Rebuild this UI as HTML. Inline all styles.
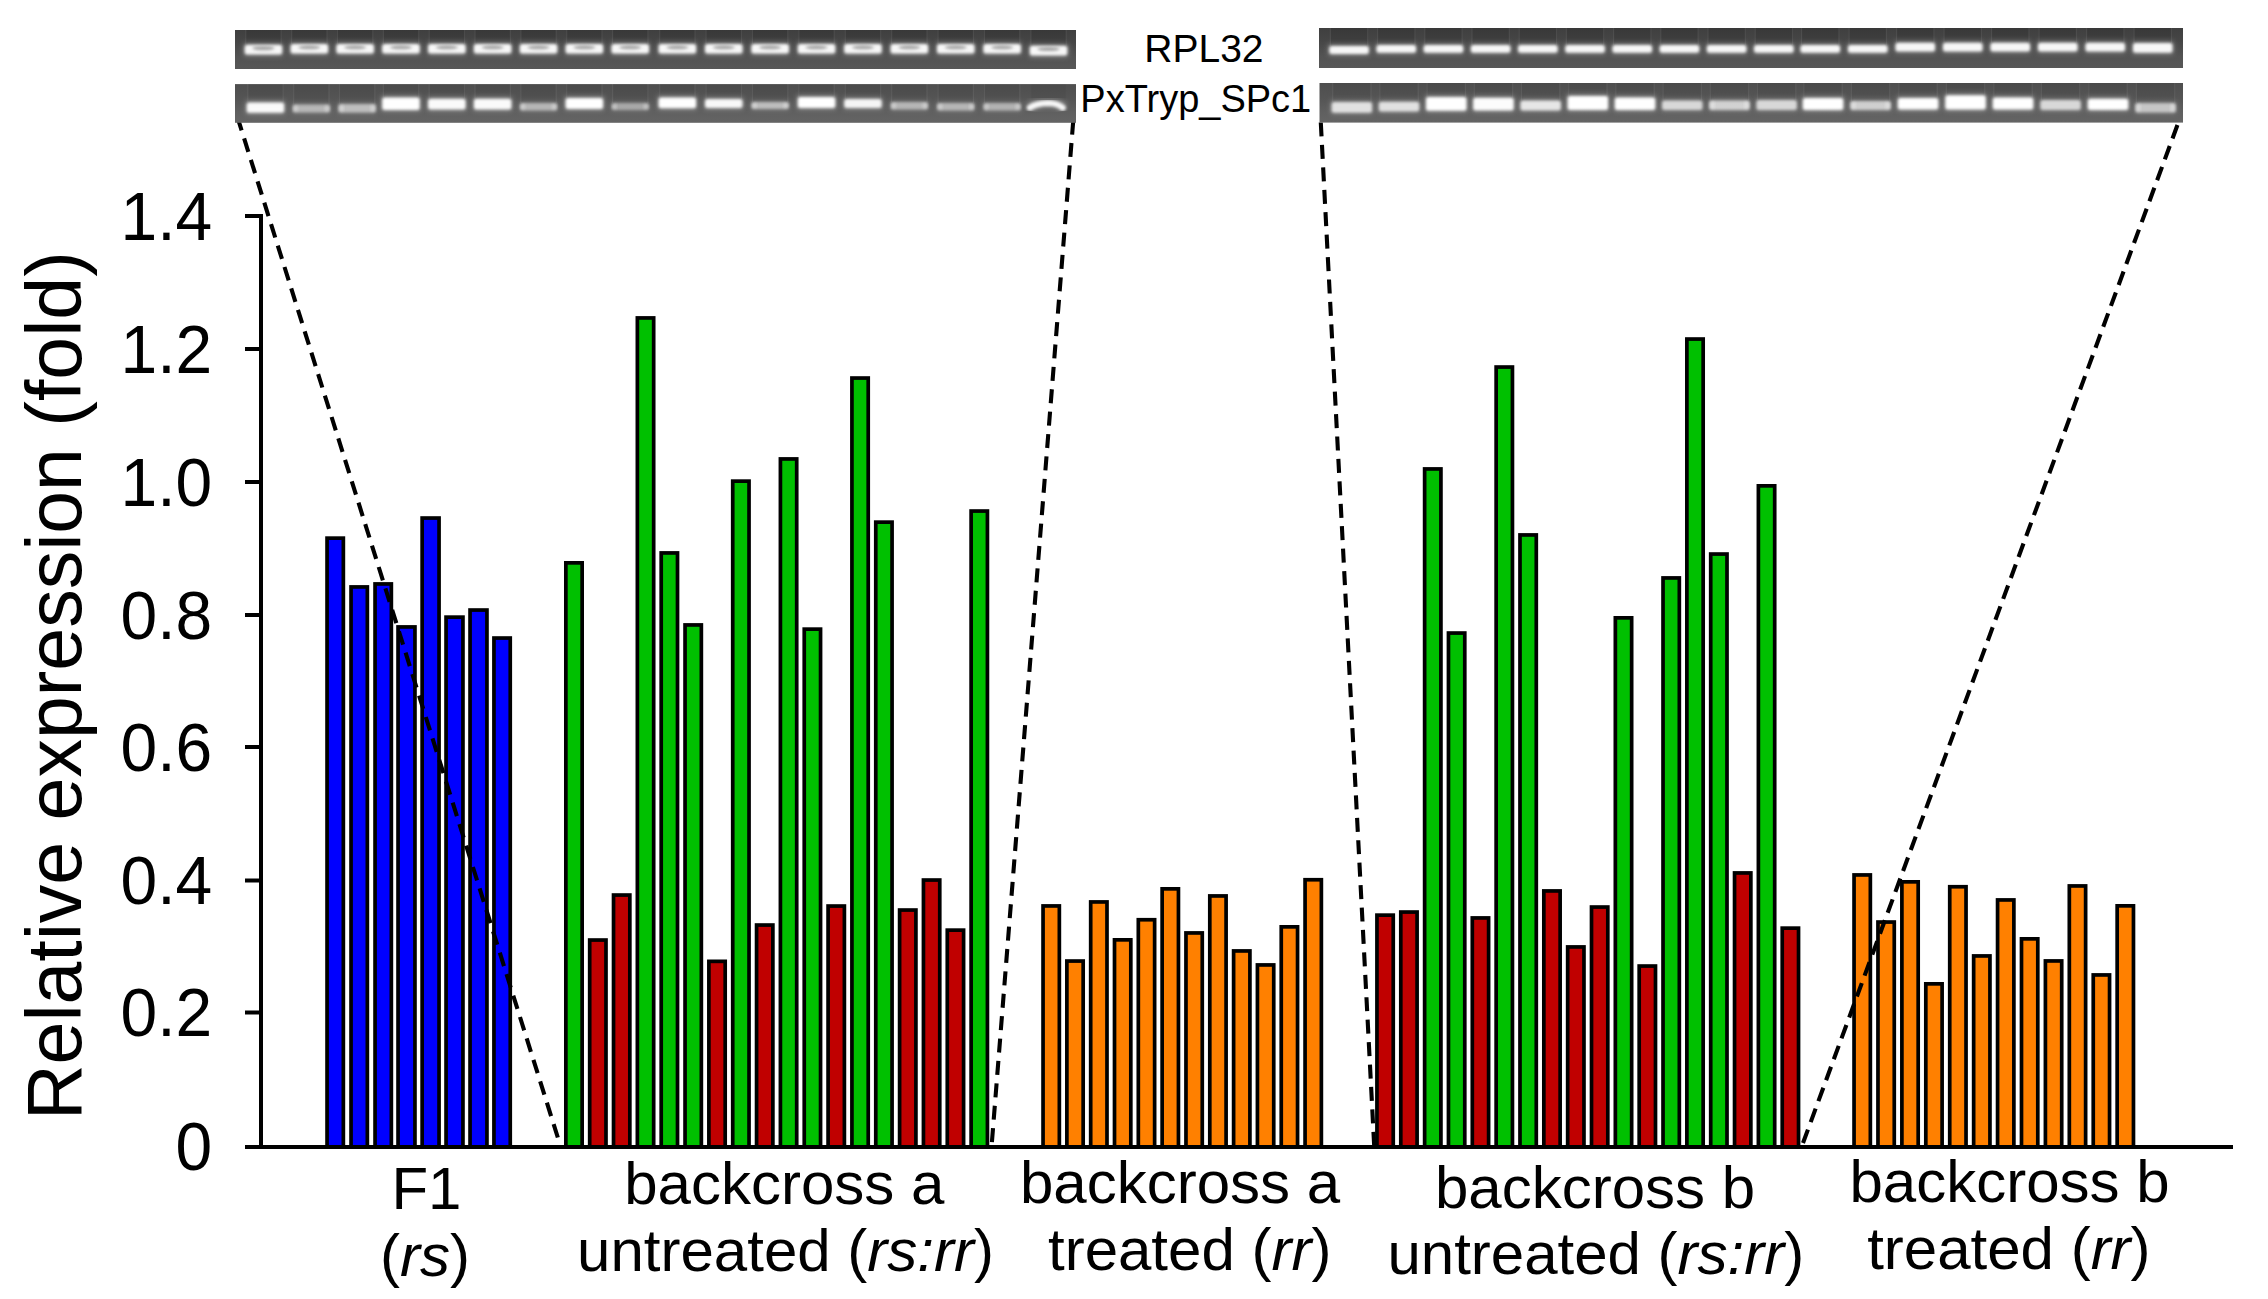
<!DOCTYPE html>
<html lang="en"><head><meta charset="utf-8"><title>Relative expression</title>
<style>html,body{margin:0;padding:0;background:#fff}svg{display:block}text{font-family:"Liberation Sans",Arial,Helvetica,sans-serif;fill:#000}.it{font-style:italic}</style>
</head><body>
<svg width="2268" height="1299" viewBox="0 0 2268 1299">
<defs>
<linearGradient id="g1" x1="0" y1="0" x2="0" y2="1"><stop offset="0" stop-color="#3f3f3f"/><stop offset="0.3" stop-color="#454545"/><stop offset="0.7" stop-color="#535353"/><stop offset="1" stop-color="#575757"/></linearGradient>
<linearGradient id="g2" x1="0" y1="0" x2="0" y2="1"><stop offset="0" stop-color="#4e4e4e"/><stop offset="0.4" stop-color="#555"/><stop offset="0.75" stop-color="#606060"/><stop offset="1" stop-color="#646464"/></linearGradient>
<filter id="bl" x="-20%" y="-60%" width="140%" height="220%"><feGaussianBlur stdDeviation="1.5"/></filter>
<filter id="bl2" x="-20%" y="-80%" width="140%" height="260%"><feGaussianBlur stdDeviation="2.6"/></filter>
</defs>
<rect x="0" y="0" width="2268" height="1299" fill="#fff"/>
<text x="1203.9" y="61.9" font-size="39" text-anchor="middle">RPL32</text>
<text x="1195.8" y="111.9" font-size="38" text-anchor="middle">PxTryp_SPc1</text>
<g id="bars">
<rect x="327.05" y="538.15" width="16.30" height="608.85" fill="#0000ff" stroke="#000" stroke-width="3.7"/>
<rect x="351.05" y="586.95" width="16.30" height="560.05" fill="#0000ff" stroke="#000" stroke-width="3.7"/>
<rect x="375.05" y="583.95" width="16.30" height="563.05" fill="#0000ff" stroke="#000" stroke-width="3.7"/>
<rect x="398.05" y="626.95" width="16.90" height="520.05" fill="#0000ff" stroke="#000" stroke-width="3.7"/>
<rect x="422.15" y="518.05" width="16.90" height="628.95" fill="#0000ff" stroke="#000" stroke-width="3.7"/>
<rect x="446.05" y="617.15" width="16.90" height="529.85" fill="#0000ff" stroke="#000" stroke-width="3.7"/>
<rect x="470.05" y="610.05" width="16.90" height="536.95" fill="#0000ff" stroke="#000" stroke-width="3.7"/>
<rect x="493.95" y="638.05" width="16.30" height="508.95" fill="#0000ff" stroke="#000" stroke-width="3.7"/>
<rect x="565.85" y="562.85" width="16.30" height="584.15" fill="#00c000" stroke="#000" stroke-width="3.7"/>
<rect x="589.69" y="940.05" width="16.30" height="206.95" fill="#c00000" stroke="#000" stroke-width="3.7"/>
<rect x="613.53" y="895.05" width="16.30" height="251.95" fill="#c00000" stroke="#000" stroke-width="3.7"/>
<rect x="637.37" y="317.95" width="16.30" height="829.05" fill="#00c000" stroke="#000" stroke-width="3.7"/>
<rect x="661.21" y="552.95" width="16.30" height="594.05" fill="#00c000" stroke="#000" stroke-width="3.7"/>
<rect x="685.05" y="624.95" width="16.30" height="522.05" fill="#00c000" stroke="#000" stroke-width="3.7"/>
<rect x="708.89" y="961.35" width="16.30" height="185.65" fill="#c00000" stroke="#000" stroke-width="3.7"/>
<rect x="732.73" y="481.15" width="16.30" height="665.85" fill="#00c000" stroke="#000" stroke-width="3.7"/>
<rect x="756.57" y="925.05" width="16.30" height="221.95" fill="#c00000" stroke="#000" stroke-width="3.7"/>
<rect x="780.41" y="458.95" width="16.30" height="688.05" fill="#00c000" stroke="#000" stroke-width="3.7"/>
<rect x="804.25" y="629.15" width="16.30" height="517.85" fill="#00c000" stroke="#000" stroke-width="3.7"/>
<rect x="828.09" y="906.05" width="16.30" height="240.95" fill="#c00000" stroke="#000" stroke-width="3.7"/>
<rect x="851.93" y="378.05" width="16.30" height="768.95" fill="#00c000" stroke="#000" stroke-width="3.7"/>
<rect x="875.77" y="522.15" width="16.30" height="624.85" fill="#00c000" stroke="#000" stroke-width="3.7"/>
<rect x="899.61" y="910.05" width="16.30" height="236.95" fill="#c00000" stroke="#000" stroke-width="3.7"/>
<rect x="923.45" y="880.05" width="16.30" height="266.95" fill="#c00000" stroke="#000" stroke-width="3.7"/>
<rect x="947.29" y="930.15" width="16.30" height="216.85" fill="#c00000" stroke="#000" stroke-width="3.7"/>
<rect x="971.13" y="511.05" width="16.30" height="635.95" fill="#00c000" stroke="#000" stroke-width="3.7"/>
<rect x="1043.05" y="905.95" width="16.30" height="241.05" fill="#ff8000" stroke="#000" stroke-width="3.7"/>
<rect x="1066.87" y="961.05" width="16.30" height="185.95" fill="#ff8000" stroke="#000" stroke-width="3.7"/>
<rect x="1090.69" y="901.95" width="16.30" height="245.05" fill="#ff8000" stroke="#000" stroke-width="3.7"/>
<rect x="1114.51" y="939.85" width="16.30" height="207.15" fill="#ff8000" stroke="#000" stroke-width="3.7"/>
<rect x="1138.33" y="919.75" width="16.30" height="227.25" fill="#ff8000" stroke="#000" stroke-width="3.7"/>
<rect x="1162.15" y="888.85" width="16.30" height="258.15" fill="#ff8000" stroke="#000" stroke-width="3.7"/>
<rect x="1185.97" y="932.95" width="16.30" height="214.05" fill="#ff8000" stroke="#000" stroke-width="3.7"/>
<rect x="1209.79" y="895.95" width="16.30" height="251.05" fill="#ff8000" stroke="#000" stroke-width="3.7"/>
<rect x="1233.61" y="950.95" width="16.30" height="196.05" fill="#ff8000" stroke="#000" stroke-width="3.7"/>
<rect x="1257.43" y="964.95" width="16.30" height="182.05" fill="#ff8000" stroke="#000" stroke-width="3.7"/>
<rect x="1281.25" y="926.85" width="16.30" height="220.15" fill="#ff8000" stroke="#000" stroke-width="3.7"/>
<rect x="1305.07" y="879.75" width="16.30" height="267.25" fill="#ff8000" stroke="#000" stroke-width="3.7"/>
<rect x="1376.95" y="915.15" width="16.30" height="231.85" fill="#c00000" stroke="#000" stroke-width="3.7"/>
<rect x="1400.79" y="912.05" width="16.30" height="234.95" fill="#c00000" stroke="#000" stroke-width="3.7"/>
<rect x="1424.63" y="468.95" width="16.30" height="678.05" fill="#00c000" stroke="#000" stroke-width="3.7"/>
<rect x="1448.47" y="633.05" width="16.30" height="513.95" fill="#00c000" stroke="#000" stroke-width="3.7"/>
<rect x="1472.31" y="917.95" width="16.30" height="229.05" fill="#c00000" stroke="#000" stroke-width="3.7"/>
<rect x="1496.15" y="367.05" width="16.30" height="779.95" fill="#00c000" stroke="#000" stroke-width="3.7"/>
<rect x="1519.99" y="534.95" width="16.30" height="612.05" fill="#00c000" stroke="#000" stroke-width="3.7"/>
<rect x="1543.83" y="890.95" width="16.30" height="256.05" fill="#c00000" stroke="#000" stroke-width="3.7"/>
<rect x="1567.67" y="946.95" width="16.30" height="200.05" fill="#c00000" stroke="#000" stroke-width="3.7"/>
<rect x="1591.51" y="907.05" width="16.30" height="239.95" fill="#c00000" stroke="#000" stroke-width="3.7"/>
<rect x="1615.35" y="617.85" width="16.30" height="529.15" fill="#00c000" stroke="#000" stroke-width="3.7"/>
<rect x="1639.19" y="966.05" width="16.30" height="180.95" fill="#c00000" stroke="#000" stroke-width="3.7"/>
<rect x="1663.03" y="577.95" width="16.30" height="569.05" fill="#00c000" stroke="#000" stroke-width="3.7"/>
<rect x="1686.87" y="339.05" width="16.30" height="807.95" fill="#00c000" stroke="#000" stroke-width="3.7"/>
<rect x="1710.71" y="554.05" width="16.30" height="592.95" fill="#00c000" stroke="#000" stroke-width="3.7"/>
<rect x="1734.55" y="872.95" width="16.30" height="274.05" fill="#c00000" stroke="#000" stroke-width="3.7"/>
<rect x="1758.39" y="485.85" width="16.30" height="661.15" fill="#00c000" stroke="#000" stroke-width="3.7"/>
<rect x="1782.23" y="928.15" width="16.30" height="218.85" fill="#c00000" stroke="#000" stroke-width="3.7"/>
<rect x="1854.05" y="874.95" width="16.30" height="272.05" fill="#ff8000" stroke="#000" stroke-width="3.7"/>
<rect x="1877.97" y="922.05" width="16.30" height="224.95" fill="#ff8000" stroke="#000" stroke-width="3.7"/>
<rect x="1901.89" y="881.85" width="16.30" height="265.15" fill="#ff8000" stroke="#000" stroke-width="3.7"/>
<rect x="1925.81" y="983.85" width="16.30" height="163.15" fill="#ff8000" stroke="#000" stroke-width="3.7"/>
<rect x="1949.73" y="886.75" width="16.30" height="260.25" fill="#ff8000" stroke="#000" stroke-width="3.7"/>
<rect x="1973.65" y="955.95" width="16.30" height="191.05" fill="#ff8000" stroke="#000" stroke-width="3.7"/>
<rect x="1997.57" y="899.95" width="16.30" height="247.05" fill="#ff8000" stroke="#000" stroke-width="3.7"/>
<rect x="2021.49" y="938.85" width="16.30" height="208.15" fill="#ff8000" stroke="#000" stroke-width="3.7"/>
<rect x="2045.41" y="960.95" width="16.30" height="186.05" fill="#ff8000" stroke="#000" stroke-width="3.7"/>
<rect x="2069.33" y="885.95" width="16.30" height="261.05" fill="#ff8000" stroke="#000" stroke-width="3.7"/>
<rect x="2093.25" y="974.95" width="16.30" height="172.05" fill="#ff8000" stroke="#000" stroke-width="3.7"/>
<rect x="2117.17" y="905.85" width="16.30" height="241.15" fill="#ff8000" stroke="#000" stroke-width="3.7"/>
</g>
<g id="axes" stroke="#000" stroke-width="4" fill="none">
<line x1="261" y1="214" x2="261" y2="1149"/>
<line x1="245" y1="1147" x2="2233" y2="1147"/>
<line x1="245" y1="216" x2="261" y2="216"/>
<line x1="245" y1="349" x2="261" y2="349"/>
<line x1="245" y1="482" x2="261" y2="482"/>
<line x1="245" y1="615" x2="261" y2="615"/>
<line x1="245" y1="747" x2="261" y2="747"/>
<line x1="245" y1="880.5" x2="261" y2="880.5"/>
<line x1="245" y1="1012.5" x2="261" y2="1012.5"/>
</g>
<text transform="translate(212.3,239.6) scale(0.985,1.035)" font-size="67" text-anchor="end">1.4</text>
<text transform="translate(212.3,372.6) scale(0.985,1.035)" font-size="67" text-anchor="end">1.2</text>
<text transform="translate(212.3,505.6) scale(0.985,1.035)" font-size="67" text-anchor="end">1.0</text>
<text transform="translate(212.3,638.6) scale(0.985,1.035)" font-size="67" text-anchor="end">0.8</text>
<text transform="translate(212.3,770.6) scale(0.985,1.035)" font-size="67" text-anchor="end">0.6</text>
<text transform="translate(212.3,904.1) scale(0.985,1.035)" font-size="67" text-anchor="end">0.4</text>
<text transform="translate(212.3,1036.1) scale(0.985,1.035)" font-size="67" text-anchor="end">0.2</text>
<text transform="translate(212.3,1169.6) scale(0.985,1.035)" font-size="67" text-anchor="end">0</text>
<text transform="translate(81,1120) rotate(-90)" font-size="77">Relative expression (fold)</text>
<g id="dash" stroke="#000" stroke-width="4.1" stroke-dasharray="14 8.46" fill="none">
<line x1="237.4" y1="117" x2="558.6" y2="1140"/>
<line x1="1073.25" y1="120.6" x2="991.6" y2="1146"/>
<line x1="1320.8" y1="122.5" x2="1374.2" y2="1146"/>
<line x1="2177.45" y1="125" x2="1801.9" y2="1146" stroke-dasharray="14.3 8"/>
</g>
<g id="gel1">
<rect x="235" y="30" width="841" height="39" fill="url(#g1)"/>
<rect x="235" y="84.1" width="841" height="38.7" fill="url(#g2)"/>
<rect x="246.2" y="30.0" width="34.5" height="14.7" fill="#000" opacity="0.1"/>
<rect x="245.2" y="30.0" width="1.2" height="14.7" fill="#fff" opacity="0.06"/>
<rect x="280.5" y="30.0" width="1.2" height="14.7" fill="#fff" opacity="0.06"/>
<rect x="243.2" y="42.2" width="40.5" height="14.4" rx="3" fill="#b0b0b0" opacity="0.40" filter="url(#bl2)"/>
<rect x="244.7" y="44.7" width="37.5" height="9.9" rx="2.5" fill="#fff" opacity="0.95" filter="url(#bl)"/>
<ellipse cx="263.4" cy="48.1" rx="11.2" ry="2.2" fill="#8a8a8a" opacity="0.75" filter="url(#bl)"/>
<rect x="292.1" y="30.0" width="34.5" height="14.1" fill="#000" opacity="0.1"/>
<rect x="291.1" y="30.0" width="1.2" height="14.1" fill="#fff" opacity="0.06"/>
<rect x="326.4" y="30.0" width="1.2" height="14.1" fill="#fff" opacity="0.06"/>
<rect x="289.1" y="41.6" width="40.5" height="13.8" rx="3" fill="#b0b0b0" opacity="0.40" filter="url(#bl2)"/>
<rect x="290.6" y="44.1" width="37.5" height="9.3" rx="2.5" fill="#fff" opacity="0.95" filter="url(#bl)"/>
<ellipse cx="309.3" cy="47.3" rx="11.2" ry="2.0" fill="#8a8a8a" opacity="0.75" filter="url(#bl)"/>
<rect x="337.9" y="30.0" width="34.5" height="14.1" fill="#000" opacity="0.1"/>
<rect x="336.9" y="30.0" width="1.2" height="14.1" fill="#fff" opacity="0.06"/>
<rect x="372.2" y="30.0" width="1.2" height="14.1" fill="#fff" opacity="0.06"/>
<rect x="334.9" y="41.6" width="40.5" height="13.8" rx="3" fill="#b0b0b0" opacity="0.40" filter="url(#bl2)"/>
<rect x="336.4" y="44.1" width="37.5" height="9.3" rx="2.5" fill="#fff" opacity="0.95" filter="url(#bl)"/>
<ellipse cx="355.1" cy="47.3" rx="11.2" ry="2.0" fill="#8a8a8a" opacity="0.75" filter="url(#bl)"/>
<rect x="383.8" y="30.0" width="34.5" height="14.1" fill="#000" opacity="0.1"/>
<rect x="382.8" y="30.0" width="1.2" height="14.1" fill="#fff" opacity="0.06"/>
<rect x="418.1" y="30.0" width="1.2" height="14.1" fill="#fff" opacity="0.06"/>
<rect x="380.8" y="41.6" width="40.5" height="13.8" rx="3" fill="#b0b0b0" opacity="0.40" filter="url(#bl2)"/>
<rect x="382.2" y="44.1" width="37.5" height="9.3" rx="2.5" fill="#fff" opacity="0.95" filter="url(#bl)"/>
<ellipse cx="401.0" cy="47.3" rx="11.2" ry="2.0" fill="#8a8a8a" opacity="0.75" filter="url(#bl)"/>
<rect x="429.6" y="30.0" width="34.5" height="14.1" fill="#000" opacity="0.1"/>
<rect x="428.6" y="30.0" width="1.2" height="14.1" fill="#fff" opacity="0.06"/>
<rect x="463.9" y="30.0" width="1.2" height="14.1" fill="#fff" opacity="0.06"/>
<rect x="426.6" y="41.6" width="40.5" height="13.8" rx="3" fill="#b0b0b0" opacity="0.40" filter="url(#bl2)"/>
<rect x="428.1" y="44.1" width="37.5" height="9.3" rx="2.5" fill="#fff" opacity="0.95" filter="url(#bl)"/>
<ellipse cx="446.9" cy="47.3" rx="11.2" ry="2.0" fill="#8a8a8a" opacity="0.75" filter="url(#bl)"/>
<rect x="475.4" y="30.0" width="34.5" height="14.1" fill="#000" opacity="0.1"/>
<rect x="474.4" y="30.0" width="1.2" height="14.1" fill="#fff" opacity="0.06"/>
<rect x="509.8" y="30.0" width="1.2" height="14.1" fill="#fff" opacity="0.06"/>
<rect x="472.4" y="41.6" width="40.5" height="13.8" rx="3" fill="#b0b0b0" opacity="0.40" filter="url(#bl2)"/>
<rect x="473.9" y="44.1" width="37.5" height="9.3" rx="2.5" fill="#fff" opacity="0.95" filter="url(#bl)"/>
<ellipse cx="492.7" cy="47.3" rx="11.2" ry="2.0" fill="#8a8a8a" opacity="0.75" filter="url(#bl)"/>
<rect x="521.3" y="30.0" width="34.5" height="14.1" fill="#000" opacity="0.1"/>
<rect x="520.3" y="30.0" width="1.2" height="14.1" fill="#fff" opacity="0.06"/>
<rect x="555.6" y="30.0" width="1.2" height="14.1" fill="#fff" opacity="0.06"/>
<rect x="518.3" y="41.6" width="40.5" height="13.8" rx="3" fill="#b0b0b0" opacity="0.40" filter="url(#bl2)"/>
<rect x="519.8" y="44.1" width="37.5" height="9.3" rx="2.5" fill="#fff" opacity="0.95" filter="url(#bl)"/>
<ellipse cx="538.5" cy="47.3" rx="11.2" ry="2.0" fill="#8a8a8a" opacity="0.75" filter="url(#bl)"/>
<rect x="567.1" y="30.0" width="34.5" height="14.1" fill="#000" opacity="0.1"/>
<rect x="566.1" y="30.0" width="1.2" height="14.1" fill="#fff" opacity="0.06"/>
<rect x="601.4" y="30.0" width="1.2" height="14.1" fill="#fff" opacity="0.06"/>
<rect x="564.1" y="41.6" width="40.5" height="13.8" rx="3" fill="#b0b0b0" opacity="0.40" filter="url(#bl2)"/>
<rect x="565.6" y="44.1" width="37.5" height="9.3" rx="2.5" fill="#fff" opacity="0.95" filter="url(#bl)"/>
<ellipse cx="584.4" cy="47.3" rx="11.2" ry="2.0" fill="#8a8a8a" opacity="0.75" filter="url(#bl)"/>
<rect x="613.0" y="30.0" width="34.5" height="14.1" fill="#000" opacity="0.1"/>
<rect x="612.0" y="30.0" width="1.2" height="14.1" fill="#fff" opacity="0.06"/>
<rect x="647.3" y="30.0" width="1.2" height="14.1" fill="#fff" opacity="0.06"/>
<rect x="610.0" y="41.6" width="40.5" height="13.8" rx="3" fill="#b0b0b0" opacity="0.40" filter="url(#bl2)"/>
<rect x="611.5" y="44.1" width="37.5" height="9.3" rx="2.5" fill="#fff" opacity="0.95" filter="url(#bl)"/>
<ellipse cx="630.2" cy="47.3" rx="11.2" ry="2.0" fill="#8a8a8a" opacity="0.75" filter="url(#bl)"/>
<rect x="660.1" y="30.0" width="34.5" height="14.1" fill="#000" opacity="0.1"/>
<rect x="659.1" y="30.0" width="1.2" height="14.1" fill="#fff" opacity="0.06"/>
<rect x="694.4" y="30.0" width="1.2" height="14.1" fill="#fff" opacity="0.06"/>
<rect x="657.1" y="41.6" width="40.5" height="13.8" rx="3" fill="#b0b0b0" opacity="0.40" filter="url(#bl2)"/>
<rect x="658.6" y="44.1" width="37.5" height="9.3" rx="2.5" fill="#fff" opacity="0.95" filter="url(#bl)"/>
<ellipse cx="677.4" cy="47.3" rx="11.2" ry="2.0" fill="#8a8a8a" opacity="0.75" filter="url(#bl)"/>
<rect x="706.5" y="30.0" width="34.5" height="14.1" fill="#000" opacity="0.1"/>
<rect x="705.5" y="30.0" width="1.2" height="14.1" fill="#fff" opacity="0.06"/>
<rect x="740.8" y="30.0" width="1.2" height="14.1" fill="#fff" opacity="0.06"/>
<rect x="703.5" y="41.6" width="40.5" height="13.8" rx="3" fill="#b0b0b0" opacity="0.40" filter="url(#bl2)"/>
<rect x="705.0" y="44.1" width="37.5" height="9.3" rx="2.5" fill="#fff" opacity="0.95" filter="url(#bl)"/>
<ellipse cx="723.8" cy="47.3" rx="11.2" ry="2.0" fill="#8a8a8a" opacity="0.75" filter="url(#bl)"/>
<rect x="752.9" y="30.0" width="34.5" height="14.1" fill="#000" opacity="0.1"/>
<rect x="751.9" y="30.0" width="1.2" height="14.1" fill="#fff" opacity="0.06"/>
<rect x="787.2" y="30.0" width="1.2" height="14.1" fill="#fff" opacity="0.06"/>
<rect x="749.9" y="41.6" width="40.5" height="13.8" rx="3" fill="#b0b0b0" opacity="0.40" filter="url(#bl2)"/>
<rect x="751.4" y="44.1" width="37.5" height="9.3" rx="2.5" fill="#fff" opacity="0.95" filter="url(#bl)"/>
<ellipse cx="770.1" cy="47.3" rx="11.2" ry="2.0" fill="#8a8a8a" opacity="0.75" filter="url(#bl)"/>
<rect x="799.3" y="30.0" width="34.5" height="14.1" fill="#000" opacity="0.1"/>
<rect x="798.3" y="30.0" width="1.2" height="14.1" fill="#fff" opacity="0.06"/>
<rect x="833.6" y="30.0" width="1.2" height="14.1" fill="#fff" opacity="0.06"/>
<rect x="796.3" y="41.6" width="40.5" height="13.8" rx="3" fill="#b0b0b0" opacity="0.40" filter="url(#bl2)"/>
<rect x="797.8" y="44.1" width="37.5" height="9.3" rx="2.5" fill="#fff" opacity="0.95" filter="url(#bl)"/>
<ellipse cx="816.5" cy="47.3" rx="11.2" ry="2.0" fill="#8a8a8a" opacity="0.75" filter="url(#bl)"/>
<rect x="845.7" y="30.0" width="34.5" height="14.1" fill="#000" opacity="0.1"/>
<rect x="844.7" y="30.0" width="1.2" height="14.1" fill="#fff" opacity="0.06"/>
<rect x="880.0" y="30.0" width="1.2" height="14.1" fill="#fff" opacity="0.06"/>
<rect x="842.7" y="41.6" width="40.5" height="13.8" rx="3" fill="#b0b0b0" opacity="0.40" filter="url(#bl2)"/>
<rect x="844.2" y="44.1" width="37.5" height="9.3" rx="2.5" fill="#fff" opacity="0.95" filter="url(#bl)"/>
<ellipse cx="863.0" cy="47.3" rx="11.2" ry="2.0" fill="#8a8a8a" opacity="0.75" filter="url(#bl)"/>
<rect x="892.1" y="30.0" width="34.5" height="14.1" fill="#000" opacity="0.1"/>
<rect x="891.1" y="30.0" width="1.2" height="14.1" fill="#fff" opacity="0.06"/>
<rect x="926.4" y="30.0" width="1.2" height="14.1" fill="#fff" opacity="0.06"/>
<rect x="889.1" y="41.6" width="40.5" height="13.8" rx="3" fill="#b0b0b0" opacity="0.40" filter="url(#bl2)"/>
<rect x="890.6" y="44.1" width="37.5" height="9.3" rx="2.5" fill="#fff" opacity="0.95" filter="url(#bl)"/>
<ellipse cx="909.4" cy="47.3" rx="11.2" ry="2.0" fill="#8a8a8a" opacity="0.75" filter="url(#bl)"/>
<rect x="938.5" y="30.0" width="34.5" height="14.1" fill="#000" opacity="0.1"/>
<rect x="937.5" y="30.0" width="1.2" height="14.1" fill="#fff" opacity="0.06"/>
<rect x="972.8" y="30.0" width="1.2" height="14.1" fill="#fff" opacity="0.06"/>
<rect x="935.5" y="41.6" width="40.5" height="13.8" rx="3" fill="#b0b0b0" opacity="0.40" filter="url(#bl2)"/>
<rect x="937.0" y="44.1" width="37.5" height="9.3" rx="2.5" fill="#fff" opacity="0.95" filter="url(#bl)"/>
<ellipse cx="955.8" cy="47.3" rx="11.2" ry="2.0" fill="#8a8a8a" opacity="0.75" filter="url(#bl)"/>
<rect x="984.9" y="30.0" width="34.5" height="14.1" fill="#000" opacity="0.1"/>
<rect x="983.9" y="30.0" width="1.2" height="14.1" fill="#fff" opacity="0.06"/>
<rect x="1019.2" y="30.0" width="1.2" height="14.1" fill="#fff" opacity="0.06"/>
<rect x="981.9" y="41.6" width="40.5" height="13.8" rx="3" fill="#b0b0b0" opacity="0.40" filter="url(#bl2)"/>
<rect x="983.4" y="44.1" width="37.5" height="9.3" rx="2.5" fill="#fff" opacity="0.95" filter="url(#bl)"/>
<ellipse cx="1002.2" cy="47.3" rx="11.2" ry="2.0" fill="#8a8a8a" opacity="0.75" filter="url(#bl)"/>
<rect x="1031.3" y="30.0" width="34.5" height="15.7" fill="#000" opacity="0.1"/>
<rect x="1030.3" y="30.0" width="1.2" height="15.7" fill="#fff" opacity="0.06"/>
<rect x="1065.6" y="30.0" width="1.2" height="15.7" fill="#fff" opacity="0.06"/>
<rect x="1028.3" y="43.2" width="40.5" height="14.2" rx="3" fill="#b0b0b0" opacity="0.40" filter="url(#bl2)"/>
<rect x="1029.8" y="45.7" width="37.5" height="9.7" rx="2.5" fill="#fff" opacity="0.95" filter="url(#bl)"/>
<ellipse cx="1048.5" cy="49.0" rx="11.2" ry="2.1" fill="#8a8a8a" opacity="0.75" filter="url(#bl)"/>
<rect x="248.2" y="84.0" width="34.5" height="18.5" fill="#000" opacity="0.04"/>
<rect x="247.2" y="84.0" width="1.2" height="18.5" fill="#fff" opacity="0.06"/>
<rect x="282.5" y="84.0" width="1.2" height="18.5" fill="#fff" opacity="0.06"/>
<rect x="245.2" y="100.0" width="40.5" height="14.8" rx="3" fill="#b0b0b0" opacity="0.41" filter="url(#bl2)"/>
<rect x="246.7" y="102.5" width="37.5" height="10.3" rx="2.5" fill="#fff" opacity="0.97" filter="url(#bl)"/>
<rect x="294.1" y="84.0" width="34.5" height="20.5" fill="#000" opacity="0.04"/>
<rect x="293.1" y="84.0" width="1.2" height="20.5" fill="#fff" opacity="0.06"/>
<rect x="328.4" y="84.0" width="1.2" height="20.5" fill="#fff" opacity="0.06"/>
<rect x="291.1" y="102.0" width="40.5" height="12.6" rx="3" fill="#b0b0b0" opacity="0.21" filter="url(#bl2)"/>
<rect x="292.6" y="104.5" width="37.5" height="8.1" rx="2.5" fill="#fff" opacity="0.50" filter="url(#bl)"/>
<rect x="293.1" y="105.3" width="5" height="6.5" rx="2" fill="#fff" opacity="0.3" filter="url(#bl)"/>
<rect x="324.6" y="105.3" width="5" height="6.5" rx="2" fill="#fff" opacity="0.3" filter="url(#bl)"/>
<rect x="339.9" y="84.0" width="34.5" height="20.0" fill="#000" opacity="0.04"/>
<rect x="338.9" y="84.0" width="1.2" height="20.0" fill="#fff" opacity="0.06"/>
<rect x="374.2" y="84.0" width="1.2" height="20.0" fill="#fff" opacity="0.06"/>
<rect x="336.9" y="101.5" width="40.5" height="13.1" rx="3" fill="#b0b0b0" opacity="0.23" filter="url(#bl2)"/>
<rect x="338.4" y="104.0" width="37.5" height="8.6" rx="2.5" fill="#fff" opacity="0.55" filter="url(#bl)"/>
<rect x="338.9" y="104.8" width="5" height="7.0" rx="2" fill="#fff" opacity="0.3" filter="url(#bl)"/>
<rect x="370.4" y="104.8" width="5" height="7.0" rx="2" fill="#fff" opacity="0.3" filter="url(#bl)"/>
<rect x="383.8" y="84.0" width="34.5" height="13.5" fill="#000" opacity="0.04"/>
<rect x="382.8" y="84.0" width="1.2" height="13.5" fill="#fff" opacity="0.06"/>
<rect x="418.1" y="84.0" width="1.2" height="13.5" fill="#fff" opacity="0.06"/>
<rect x="380.8" y="95.0" width="40.5" height="16.9" rx="3" fill="#b0b0b0" opacity="0.42" filter="url(#bl2)"/>
<rect x="382.2" y="97.5" width="37.5" height="12.4" rx="2.5" fill="#fff" opacity="1.00" filter="url(#bl)"/>
<rect x="429.6" y="84.0" width="34.5" height="14.8" fill="#000" opacity="0.04"/>
<rect x="428.6" y="84.0" width="1.2" height="14.8" fill="#fff" opacity="0.06"/>
<rect x="463.9" y="84.0" width="1.2" height="14.8" fill="#fff" opacity="0.06"/>
<rect x="426.6" y="96.3" width="40.5" height="15.3" rx="3" fill="#b0b0b0" opacity="0.41" filter="url(#bl2)"/>
<rect x="428.1" y="98.8" width="37.5" height="10.8" rx="2.5" fill="#fff" opacity="0.97" filter="url(#bl)"/>
<rect x="475.4" y="84.0" width="34.5" height="14.8" fill="#000" opacity="0.04"/>
<rect x="474.4" y="84.0" width="1.2" height="14.8" fill="#fff" opacity="0.06"/>
<rect x="509.8" y="84.0" width="1.2" height="14.8" fill="#fff" opacity="0.06"/>
<rect x="472.4" y="96.3" width="40.5" height="15.3" rx="3" fill="#b0b0b0" opacity="0.41" filter="url(#bl2)"/>
<rect x="473.9" y="98.8" width="37.5" height="10.8" rx="2.5" fill="#fff" opacity="0.97" filter="url(#bl)"/>
<rect x="521.3" y="84.0" width="34.5" height="19.0" fill="#000" opacity="0.04"/>
<rect x="520.3" y="84.0" width="1.2" height="19.0" fill="#fff" opacity="0.06"/>
<rect x="555.6" y="84.0" width="1.2" height="19.0" fill="#fff" opacity="0.06"/>
<rect x="518.3" y="100.5" width="40.5" height="12.1" rx="3" fill="#b0b0b0" opacity="0.21" filter="url(#bl2)"/>
<rect x="519.8" y="103.0" width="37.5" height="7.6" rx="2.5" fill="#fff" opacity="0.50" filter="url(#bl)"/>
<rect x="520.3" y="103.8" width="5" height="6.0" rx="2" fill="#fff" opacity="0.3" filter="url(#bl)"/>
<rect x="551.8" y="103.8" width="5" height="6.0" rx="2" fill="#fff" opacity="0.3" filter="url(#bl)"/>
<rect x="567.1" y="84.0" width="34.5" height="14.0" fill="#000" opacity="0.04"/>
<rect x="566.1" y="84.0" width="1.2" height="14.0" fill="#fff" opacity="0.06"/>
<rect x="601.4" y="84.0" width="1.2" height="14.0" fill="#fff" opacity="0.06"/>
<rect x="564.1" y="95.5" width="40.5" height="15.6" rx="3" fill="#b0b0b0" opacity="0.42" filter="url(#bl2)"/>
<rect x="565.6" y="98.0" width="37.5" height="11.1" rx="2.5" fill="#fff" opacity="1.00" filter="url(#bl)"/>
<rect x="613.0" y="84.0" width="34.5" height="19.0" fill="#000" opacity="0.04"/>
<rect x="612.0" y="84.0" width="1.2" height="19.0" fill="#fff" opacity="0.06"/>
<rect x="647.3" y="84.0" width="1.2" height="19.0" fill="#fff" opacity="0.06"/>
<rect x="610.0" y="100.5" width="40.5" height="11.6" rx="3" fill="#b0b0b0" opacity="0.18" filter="url(#bl2)"/>
<rect x="611.5" y="103.0" width="37.5" height="7.1" rx="2.5" fill="#fff" opacity="0.42" filter="url(#bl)"/>
<rect x="612.0" y="103.8" width="5" height="5.5" rx="2" fill="#fff" opacity="0.3" filter="url(#bl)"/>
<rect x="643.5" y="103.8" width="5" height="5.5" rx="2" fill="#fff" opacity="0.3" filter="url(#bl)"/>
<rect x="660.1" y="84.0" width="34.5" height="13.5" fill="#000" opacity="0.04"/>
<rect x="659.1" y="84.0" width="1.2" height="13.5" fill="#fff" opacity="0.06"/>
<rect x="694.4" y="84.0" width="1.2" height="13.5" fill="#fff" opacity="0.06"/>
<rect x="657.1" y="95.0" width="40.5" height="15.2" rx="3" fill="#b0b0b0" opacity="0.42" filter="url(#bl2)"/>
<rect x="658.6" y="97.5" width="37.5" height="10.7" rx="2.5" fill="#fff" opacity="1.00" filter="url(#bl)"/>
<rect x="706.5" y="84.0" width="34.5" height="15.0" fill="#000" opacity="0.04"/>
<rect x="705.5" y="84.0" width="1.2" height="15.0" fill="#fff" opacity="0.06"/>
<rect x="740.8" y="84.0" width="1.2" height="15.0" fill="#fff" opacity="0.06"/>
<rect x="703.5" y="96.5" width="40.5" height="13.6" rx="3" fill="#b0b0b0" opacity="0.40" filter="url(#bl2)"/>
<rect x="705.0" y="99.0" width="37.5" height="9.1" rx="2.5" fill="#fff" opacity="0.95" filter="url(#bl)"/>
<rect x="752.9" y="84.0" width="34.5" height="18.0" fill="#000" opacity="0.04"/>
<rect x="751.9" y="84.0" width="1.2" height="18.0" fill="#fff" opacity="0.06"/>
<rect x="787.2" y="84.0" width="1.2" height="18.0" fill="#fff" opacity="0.06"/>
<rect x="749.9" y="99.5" width="40.5" height="11.6" rx="3" fill="#b0b0b0" opacity="0.23" filter="url(#bl2)"/>
<rect x="751.4" y="102.0" width="37.5" height="7.1" rx="2.5" fill="#fff" opacity="0.55" filter="url(#bl)"/>
<rect x="751.9" y="102.8" width="5" height="5.5" rx="2" fill="#fff" opacity="0.3" filter="url(#bl)"/>
<rect x="783.4" y="102.8" width="5" height="5.5" rx="2" fill="#fff" opacity="0.3" filter="url(#bl)"/>
<rect x="799.3" y="84.0" width="34.5" height="13.0" fill="#000" opacity="0.04"/>
<rect x="798.3" y="84.0" width="1.2" height="13.0" fill="#fff" opacity="0.06"/>
<rect x="833.6" y="84.0" width="1.2" height="13.0" fill="#fff" opacity="0.06"/>
<rect x="796.3" y="94.5" width="40.5" height="15.4" rx="3" fill="#b0b0b0" opacity="0.42" filter="url(#bl2)"/>
<rect x="797.8" y="97.0" width="37.5" height="10.9" rx="2.5" fill="#fff" opacity="1.00" filter="url(#bl)"/>
<rect x="845.7" y="84.0" width="34.5" height="15.0" fill="#000" opacity="0.04"/>
<rect x="844.7" y="84.0" width="1.2" height="15.0" fill="#fff" opacity="0.06"/>
<rect x="880.0" y="84.0" width="1.2" height="15.0" fill="#fff" opacity="0.06"/>
<rect x="842.7" y="96.5" width="40.5" height="13.6" rx="3" fill="#b0b0b0" opacity="0.39" filter="url(#bl2)"/>
<rect x="844.2" y="99.0" width="37.5" height="9.1" rx="2.5" fill="#fff" opacity="0.93" filter="url(#bl)"/>
<rect x="892.1" y="84.0" width="34.5" height="18.0" fill="#000" opacity="0.04"/>
<rect x="891.1" y="84.0" width="1.2" height="18.0" fill="#fff" opacity="0.06"/>
<rect x="926.4" y="84.0" width="1.2" height="18.0" fill="#fff" opacity="0.06"/>
<rect x="889.1" y="99.5" width="40.5" height="12.1" rx="3" fill="#b0b0b0" opacity="0.21" filter="url(#bl2)"/>
<rect x="890.6" y="102.0" width="37.5" height="7.6" rx="2.5" fill="#fff" opacity="0.50" filter="url(#bl)"/>
<rect x="891.1" y="102.8" width="5" height="6.0" rx="2" fill="#fff" opacity="0.3" filter="url(#bl)"/>
<rect x="922.6" y="102.8" width="5" height="6.0" rx="2" fill="#fff" opacity="0.3" filter="url(#bl)"/>
<rect x="938.5" y="84.0" width="34.5" height="19.0" fill="#000" opacity="0.04"/>
<rect x="937.5" y="84.0" width="1.2" height="19.0" fill="#fff" opacity="0.06"/>
<rect x="972.8" y="84.0" width="1.2" height="19.0" fill="#fff" opacity="0.06"/>
<rect x="935.5" y="100.5" width="40.5" height="12.1" rx="3" fill="#b0b0b0" opacity="0.21" filter="url(#bl2)"/>
<rect x="937.0" y="103.0" width="37.5" height="7.6" rx="2.5" fill="#fff" opacity="0.50" filter="url(#bl)"/>
<rect x="937.5" y="103.8" width="5" height="6.0" rx="2" fill="#fff" opacity="0.3" filter="url(#bl)"/>
<rect x="969.0" y="103.8" width="5" height="6.0" rx="2" fill="#fff" opacity="0.3" filter="url(#bl)"/>
<rect x="984.9" y="84.0" width="34.5" height="19.0" fill="#000" opacity="0.04"/>
<rect x="983.9" y="84.0" width="1.2" height="19.0" fill="#fff" opacity="0.06"/>
<rect x="1019.2" y="84.0" width="1.2" height="19.0" fill="#fff" opacity="0.06"/>
<rect x="981.9" y="100.5" width="40.5" height="12.1" rx="3" fill="#b0b0b0" opacity="0.20" filter="url(#bl2)"/>
<rect x="983.4" y="103.0" width="37.5" height="7.6" rx="2.5" fill="#fff" opacity="0.48" filter="url(#bl)"/>
<rect x="983.9" y="103.8" width="5" height="6.0" rx="2" fill="#fff" opacity="0.3" filter="url(#bl)"/>
<rect x="1015.4" y="103.8" width="5" height="6.0" rx="2" fill="#fff" opacity="0.3" filter="url(#bl)"/>
<rect x="1031.3" y="84" width="34.5" height="16" fill="#000" opacity="0.04"/>
<path d="M1028.3,107.6 Q1036.3,102.6 1048.3,102.4 Q1058.3,102.6 1064.3,107.6" stroke="#b0b0b0" stroke-width="11" fill="none" opacity="0.4" filter="url(#bl2)"/>
<path d="M1029.8,107.8 Q1036.3,103.2 1048.3,103 Q1057.3,103.2 1062.8,107.8" stroke="#fff" stroke-width="6.2" stroke-linecap="round" fill="none" opacity="0.95" filter="url(#bl)"/>
</g>
<g id="gel2">
<rect x="1319" y="28" width="864" height="40" fill="url(#g1)"/>
<rect x="1319.5" y="83" width="863.5" height="39.6" fill="url(#g2)"/>
<rect x="1330.8" y="28.0" width="36.5" height="18.1" fill="#000" opacity="0.1"/>
<rect x="1329.8" y="28.0" width="1.2" height="18.1" fill="#fff" opacity="0.06"/>
<rect x="1367.1" y="28.0" width="1.2" height="18.1" fill="#fff" opacity="0.06"/>
<rect x="1327.8" y="43.6" width="42.5" height="12.4" rx="3" fill="#b0b0b0" opacity="0.40" filter="url(#bl2)"/>
<rect x="1329.3" y="46.1" width="39.5" height="7.9" rx="2.5" fill="#fff" opacity="0.95" filter="url(#bl)"/>
<rect x="1378.0" y="28.0" width="36.5" height="17.1" fill="#000" opacity="0.1"/>
<rect x="1377.0" y="28.0" width="1.2" height="17.1" fill="#fff" opacity="0.06"/>
<rect x="1414.3" y="28.0" width="1.2" height="17.1" fill="#fff" opacity="0.06"/>
<rect x="1375.0" y="42.6" width="42.5" height="12.2" rx="3" fill="#b0b0b0" opacity="0.40" filter="url(#bl2)"/>
<rect x="1376.5" y="45.1" width="39.5" height="7.7" rx="2.5" fill="#fff" opacity="0.95" filter="url(#bl)"/>
<rect x="1425.2" y="28.0" width="36.5" height="17.1" fill="#000" opacity="0.1"/>
<rect x="1424.2" y="28.0" width="1.2" height="17.1" fill="#fff" opacity="0.06"/>
<rect x="1461.5" y="28.0" width="1.2" height="17.1" fill="#fff" opacity="0.06"/>
<rect x="1422.2" y="42.6" width="42.5" height="12.2" rx="3" fill="#b0b0b0" opacity="0.40" filter="url(#bl2)"/>
<rect x="1423.7" y="45.1" width="39.5" height="7.7" rx="2.5" fill="#fff" opacity="0.95" filter="url(#bl)"/>
<rect x="1472.4" y="28.0" width="36.5" height="17.1" fill="#000" opacity="0.1"/>
<rect x="1471.4" y="28.0" width="1.2" height="17.1" fill="#fff" opacity="0.06"/>
<rect x="1508.7" y="28.0" width="1.2" height="17.1" fill="#fff" opacity="0.06"/>
<rect x="1469.4" y="42.6" width="42.5" height="12.2" rx="3" fill="#b0b0b0" opacity="0.40" filter="url(#bl2)"/>
<rect x="1470.9" y="45.1" width="39.5" height="7.7" rx="2.5" fill="#fff" opacity="0.95" filter="url(#bl)"/>
<rect x="1519.6" y="28.0" width="36.5" height="17.1" fill="#000" opacity="0.1"/>
<rect x="1518.6" y="28.0" width="1.2" height="17.1" fill="#fff" opacity="0.06"/>
<rect x="1555.9" y="28.0" width="1.2" height="17.1" fill="#fff" opacity="0.06"/>
<rect x="1516.6" y="42.6" width="42.5" height="12.2" rx="3" fill="#b0b0b0" opacity="0.40" filter="url(#bl2)"/>
<rect x="1518.1" y="45.1" width="39.5" height="7.7" rx="2.5" fill="#fff" opacity="0.95" filter="url(#bl)"/>
<rect x="1566.8" y="28.0" width="36.5" height="17.1" fill="#000" opacity="0.1"/>
<rect x="1565.8" y="28.0" width="1.2" height="17.1" fill="#fff" opacity="0.06"/>
<rect x="1603.1" y="28.0" width="1.2" height="17.1" fill="#fff" opacity="0.06"/>
<rect x="1563.8" y="42.6" width="42.5" height="12.2" rx="3" fill="#b0b0b0" opacity="0.40" filter="url(#bl2)"/>
<rect x="1565.3" y="45.1" width="39.5" height="7.7" rx="2.5" fill="#fff" opacity="0.95" filter="url(#bl)"/>
<rect x="1614.0" y="28.0" width="36.5" height="17.1" fill="#000" opacity="0.1"/>
<rect x="1613.0" y="28.0" width="1.2" height="17.1" fill="#fff" opacity="0.06"/>
<rect x="1650.3" y="28.0" width="1.2" height="17.1" fill="#fff" opacity="0.06"/>
<rect x="1611.0" y="42.6" width="42.5" height="12.2" rx="3" fill="#b0b0b0" opacity="0.40" filter="url(#bl2)"/>
<rect x="1612.5" y="45.1" width="39.5" height="7.7" rx="2.5" fill="#fff" opacity="0.95" filter="url(#bl)"/>
<rect x="1661.2" y="28.0" width="36.5" height="17.1" fill="#000" opacity="0.1"/>
<rect x="1660.2" y="28.0" width="1.2" height="17.1" fill="#fff" opacity="0.06"/>
<rect x="1697.5" y="28.0" width="1.2" height="17.1" fill="#fff" opacity="0.06"/>
<rect x="1658.2" y="42.6" width="42.5" height="12.2" rx="3" fill="#b0b0b0" opacity="0.40" filter="url(#bl2)"/>
<rect x="1659.7" y="45.1" width="39.5" height="7.7" rx="2.5" fill="#fff" opacity="0.95" filter="url(#bl)"/>
<rect x="1708.4" y="28.0" width="36.5" height="17.1" fill="#000" opacity="0.1"/>
<rect x="1707.4" y="28.0" width="1.2" height="17.1" fill="#fff" opacity="0.06"/>
<rect x="1744.7" y="28.0" width="1.2" height="17.1" fill="#fff" opacity="0.06"/>
<rect x="1705.4" y="42.6" width="42.5" height="12.2" rx="3" fill="#b0b0b0" opacity="0.40" filter="url(#bl2)"/>
<rect x="1706.9" y="45.1" width="39.5" height="7.7" rx="2.5" fill="#fff" opacity="0.95" filter="url(#bl)"/>
<rect x="1755.6" y="28.0" width="36.5" height="17.1" fill="#000" opacity="0.1"/>
<rect x="1754.6" y="28.0" width="1.2" height="17.1" fill="#fff" opacity="0.06"/>
<rect x="1791.9" y="28.0" width="1.2" height="17.1" fill="#fff" opacity="0.06"/>
<rect x="1752.6" y="42.6" width="42.5" height="12.2" rx="3" fill="#b0b0b0" opacity="0.40" filter="url(#bl2)"/>
<rect x="1754.1" y="45.1" width="39.5" height="7.7" rx="2.5" fill="#fff" opacity="0.95" filter="url(#bl)"/>
<rect x="1802.0" y="28.0" width="36.5" height="17.1" fill="#000" opacity="0.1"/>
<rect x="1801.0" y="28.0" width="1.2" height="17.1" fill="#fff" opacity="0.06"/>
<rect x="1838.3" y="28.0" width="1.2" height="17.1" fill="#fff" opacity="0.06"/>
<rect x="1799.0" y="42.6" width="42.5" height="12.2" rx="3" fill="#b0b0b0" opacity="0.40" filter="url(#bl2)"/>
<rect x="1800.5" y="45.1" width="39.5" height="7.7" rx="2.5" fill="#fff" opacity="0.95" filter="url(#bl)"/>
<rect x="1849.5" y="28.0" width="36.5" height="17.1" fill="#000" opacity="0.1"/>
<rect x="1848.5" y="28.0" width="1.2" height="17.1" fill="#fff" opacity="0.06"/>
<rect x="1885.8" y="28.0" width="1.2" height="17.1" fill="#fff" opacity="0.06"/>
<rect x="1846.5" y="42.6" width="42.5" height="12.2" rx="3" fill="#b0b0b0" opacity="0.40" filter="url(#bl2)"/>
<rect x="1848.0" y="45.1" width="39.5" height="7.7" rx="2.5" fill="#fff" opacity="0.95" filter="url(#bl)"/>
<rect x="1897.0" y="28.0" width="36.5" height="14.7" fill="#000" opacity="0.1"/>
<rect x="1896.0" y="28.0" width="1.2" height="14.7" fill="#fff" opacity="0.06"/>
<rect x="1933.3" y="28.0" width="1.2" height="14.7" fill="#fff" opacity="0.06"/>
<rect x="1894.0" y="40.2" width="42.5" height="13.4" rx="3" fill="#b0b0b0" opacity="0.40" filter="url(#bl2)"/>
<rect x="1895.5" y="42.7" width="39.5" height="8.9" rx="2.5" fill="#fff" opacity="0.95" filter="url(#bl)"/>
<rect x="1944.5" y="28.0" width="36.5" height="14.7" fill="#000" opacity="0.1"/>
<rect x="1943.5" y="28.0" width="1.2" height="14.7" fill="#fff" opacity="0.06"/>
<rect x="1980.8" y="28.0" width="1.2" height="14.7" fill="#fff" opacity="0.06"/>
<rect x="1941.5" y="40.2" width="42.5" height="13.4" rx="3" fill="#b0b0b0" opacity="0.40" filter="url(#bl2)"/>
<rect x="1943.0" y="42.7" width="39.5" height="8.9" rx="2.5" fill="#fff" opacity="0.95" filter="url(#bl)"/>
<rect x="1992.0" y="28.0" width="36.5" height="14.7" fill="#000" opacity="0.1"/>
<rect x="1991.0" y="28.0" width="1.2" height="14.7" fill="#fff" opacity="0.06"/>
<rect x="2028.3" y="28.0" width="1.2" height="14.7" fill="#fff" opacity="0.06"/>
<rect x="1989.0" y="40.2" width="42.5" height="13.4" rx="3" fill="#b0b0b0" opacity="0.40" filter="url(#bl2)"/>
<rect x="1990.5" y="42.7" width="39.5" height="8.9" rx="2.5" fill="#fff" opacity="0.95" filter="url(#bl)"/>
<rect x="2039.5" y="28.0" width="36.5" height="14.7" fill="#000" opacity="0.1"/>
<rect x="2038.5" y="28.0" width="1.2" height="14.7" fill="#fff" opacity="0.06"/>
<rect x="2075.8" y="28.0" width="1.2" height="14.7" fill="#fff" opacity="0.06"/>
<rect x="2036.5" y="40.2" width="42.5" height="13.4" rx="3" fill="#b0b0b0" opacity="0.40" filter="url(#bl2)"/>
<rect x="2038.0" y="42.7" width="39.5" height="8.9" rx="2.5" fill="#fff" opacity="0.95" filter="url(#bl)"/>
<rect x="2087.0" y="28.0" width="36.5" height="14.7" fill="#000" opacity="0.1"/>
<rect x="2086.0" y="28.0" width="1.2" height="14.7" fill="#fff" opacity="0.06"/>
<rect x="2123.3" y="28.0" width="1.2" height="14.7" fill="#fff" opacity="0.06"/>
<rect x="2084.0" y="40.2" width="42.5" height="13.4" rx="3" fill="#b0b0b0" opacity="0.40" filter="url(#bl2)"/>
<rect x="2085.5" y="42.7" width="39.5" height="8.9" rx="2.5" fill="#fff" opacity="0.95" filter="url(#bl)"/>
<rect x="2134.5" y="28.0" width="36.5" height="15.0" fill="#000" opacity="0.1"/>
<rect x="2133.5" y="28.0" width="1.2" height="15.0" fill="#fff" opacity="0.06"/>
<rect x="2170.8" y="28.0" width="1.2" height="15.0" fill="#fff" opacity="0.06"/>
<rect x="2131.5" y="40.5" width="42.5" height="14.3" rx="3" fill="#b0b0b0" opacity="0.40" filter="url(#bl2)"/>
<rect x="2133.0" y="43.0" width="39.5" height="9.8" rx="2.5" fill="#fff" opacity="0.95" filter="url(#bl)"/>
<rect x="1333.1" y="83.0" width="37.5" height="19.0" fill="#000" opacity="0.04"/>
<rect x="1332.1" y="83.0" width="1.2" height="19.0" fill="#fff" opacity="0.06"/>
<rect x="1370.4" y="83.0" width="1.2" height="19.0" fill="#fff" opacity="0.06"/>
<rect x="1330.1" y="99.5" width="43.5" height="15.3" rx="3" fill="#b0b0b0" opacity="0.33" filter="url(#bl2)"/>
<rect x="1331.6" y="102.0" width="40.5" height="10.8" rx="2.5" fill="#fff" opacity="0.78" filter="url(#bl)"/>
<rect x="1380.3" y="83.0" width="37.5" height="18.7" fill="#000" opacity="0.04"/>
<rect x="1379.3" y="83.0" width="1.2" height="18.7" fill="#fff" opacity="0.06"/>
<rect x="1417.6" y="83.0" width="1.2" height="18.7" fill="#fff" opacity="0.06"/>
<rect x="1377.3" y="99.2" width="43.5" height="14.4" rx="3" fill="#b0b0b0" opacity="0.33" filter="url(#bl2)"/>
<rect x="1378.8" y="101.7" width="40.5" height="9.9" rx="2.5" fill="#fff" opacity="0.78" filter="url(#bl)"/>
<rect x="1427.5" y="83.0" width="37.5" height="13.9" fill="#000" opacity="0.04"/>
<rect x="1426.5" y="83.0" width="1.2" height="13.9" fill="#fff" opacity="0.06"/>
<rect x="1464.8" y="83.0" width="1.2" height="13.9" fill="#fff" opacity="0.06"/>
<rect x="1424.5" y="94.4" width="43.5" height="18.4" rx="3" fill="#b0b0b0" opacity="0.42" filter="url(#bl2)"/>
<rect x="1426.0" y="96.9" width="40.5" height="13.9" rx="2.5" fill="#fff" opacity="1.00" filter="url(#bl)"/>
<rect x="1474.7" y="83.0" width="37.5" height="14.7" fill="#000" opacity="0.04"/>
<rect x="1473.7" y="83.0" width="1.2" height="14.7" fill="#fff" opacity="0.06"/>
<rect x="1512.0" y="83.0" width="1.2" height="14.7" fill="#fff" opacity="0.06"/>
<rect x="1471.7" y="95.2" width="43.5" height="17.4" rx="3" fill="#b0b0b0" opacity="0.41" filter="url(#bl2)"/>
<rect x="1473.2" y="97.7" width="40.5" height="12.9" rx="2.5" fill="#fff" opacity="0.98" filter="url(#bl)"/>
<rect x="1521.9" y="83.0" width="37.5" height="17.5" fill="#000" opacity="0.04"/>
<rect x="1520.9" y="83.0" width="1.2" height="17.5" fill="#fff" opacity="0.06"/>
<rect x="1559.2" y="83.0" width="1.2" height="17.5" fill="#fff" opacity="0.06"/>
<rect x="1518.9" y="98.0" width="43.5" height="14.6" rx="3" fill="#b0b0b0" opacity="0.34" filter="url(#bl2)"/>
<rect x="1520.4" y="100.5" width="40.5" height="10.1" rx="2.5" fill="#fff" opacity="0.82" filter="url(#bl)"/>
<rect x="1569.1" y="83.0" width="37.5" height="12.9" fill="#000" opacity="0.04"/>
<rect x="1568.1" y="83.0" width="1.2" height="12.9" fill="#fff" opacity="0.06"/>
<rect x="1606.4" y="83.0" width="1.2" height="12.9" fill="#fff" opacity="0.06"/>
<rect x="1566.1" y="93.4" width="43.5" height="18.5" rx="3" fill="#b0b0b0" opacity="0.42" filter="url(#bl2)"/>
<rect x="1567.6" y="95.9" width="40.5" height="14.0" rx="2.5" fill="#fff" opacity="1.00" filter="url(#bl)"/>
<rect x="1616.3" y="83.0" width="37.5" height="14.5" fill="#000" opacity="0.04"/>
<rect x="1615.3" y="83.0" width="1.2" height="14.5" fill="#fff" opacity="0.06"/>
<rect x="1653.6" y="83.0" width="1.2" height="14.5" fill="#fff" opacity="0.06"/>
<rect x="1613.3" y="95.0" width="43.5" height="16.9" rx="3" fill="#b0b0b0" opacity="0.42" filter="url(#bl2)"/>
<rect x="1614.8" y="97.5" width="40.5" height="12.4" rx="2.5" fill="#fff" opacity="1.00" filter="url(#bl)"/>
<rect x="1663.5" y="83.0" width="37.5" height="17.5" fill="#000" opacity="0.04"/>
<rect x="1662.5" y="83.0" width="1.2" height="17.5" fill="#fff" opacity="0.06"/>
<rect x="1700.8" y="83.0" width="1.2" height="17.5" fill="#fff" opacity="0.06"/>
<rect x="1660.5" y="98.0" width="43.5" height="13.9" rx="3" fill="#b0b0b0" opacity="0.30" filter="url(#bl2)"/>
<rect x="1662.0" y="100.5" width="40.5" height="9.4" rx="2.5" fill="#fff" opacity="0.72" filter="url(#bl)"/>
<rect x="1710.7" y="83.0" width="37.5" height="17.5" fill="#000" opacity="0.04"/>
<rect x="1709.7" y="83.0" width="1.2" height="17.5" fill="#fff" opacity="0.06"/>
<rect x="1748.0" y="83.0" width="1.2" height="17.5" fill="#fff" opacity="0.06"/>
<rect x="1707.7" y="98.0" width="43.5" height="13.9" rx="3" fill="#b0b0b0" opacity="0.29" filter="url(#bl2)"/>
<rect x="1709.2" y="100.5" width="40.5" height="9.4" rx="2.5" fill="#fff" opacity="0.68" filter="url(#bl)"/>
<rect x="1709.7" y="101.3" width="5" height="7.8" rx="2" fill="#fff" opacity="0.3" filter="url(#bl)"/>
<rect x="1744.2" y="101.3" width="5" height="7.8" rx="2" fill="#fff" opacity="0.3" filter="url(#bl)"/>
<rect x="1757.9" y="83.0" width="37.5" height="17.1" fill="#000" opacity="0.04"/>
<rect x="1756.9" y="83.0" width="1.2" height="17.1" fill="#fff" opacity="0.06"/>
<rect x="1795.2" y="83.0" width="1.2" height="17.1" fill="#fff" opacity="0.06"/>
<rect x="1754.9" y="97.6" width="43.5" height="14.3" rx="3" fill="#b0b0b0" opacity="0.30" filter="url(#bl2)"/>
<rect x="1756.4" y="100.1" width="40.5" height="9.8" rx="2.5" fill="#fff" opacity="0.72" filter="url(#bl)"/>
<rect x="1804.3" y="83.0" width="37.5" height="14.9" fill="#000" opacity="0.04"/>
<rect x="1803.3" y="83.0" width="1.2" height="14.9" fill="#fff" opacity="0.06"/>
<rect x="1841.6" y="83.0" width="1.2" height="14.9" fill="#fff" opacity="0.06"/>
<rect x="1801.3" y="95.4" width="43.5" height="16.5" rx="3" fill="#b0b0b0" opacity="0.42" filter="url(#bl2)"/>
<rect x="1802.8" y="97.9" width="40.5" height="12.0" rx="2.5" fill="#fff" opacity="1.00" filter="url(#bl)"/>
<rect x="1851.8" y="83.0" width="37.5" height="17.9" fill="#000" opacity="0.04"/>
<rect x="1850.8" y="83.0" width="1.2" height="17.9" fill="#fff" opacity="0.06"/>
<rect x="1889.1" y="83.0" width="1.2" height="17.9" fill="#fff" opacity="0.06"/>
<rect x="1848.8" y="98.4" width="43.5" height="13.5" rx="3" fill="#b0b0b0" opacity="0.28" filter="url(#bl2)"/>
<rect x="1850.3" y="100.9" width="40.5" height="9.0" rx="2.5" fill="#fff" opacity="0.66" filter="url(#bl)"/>
<rect x="1850.8" y="101.7" width="5" height="7.4" rx="2" fill="#fff" opacity="0.3" filter="url(#bl)"/>
<rect x="1885.3" y="101.7" width="5" height="7.4" rx="2" fill="#fff" opacity="0.3" filter="url(#bl)"/>
<rect x="1899.3" y="83.0" width="37.5" height="14.9" fill="#000" opacity="0.04"/>
<rect x="1898.3" y="83.0" width="1.2" height="14.9" fill="#fff" opacity="0.06"/>
<rect x="1936.6" y="83.0" width="1.2" height="14.9" fill="#fff" opacity="0.06"/>
<rect x="1896.3" y="95.4" width="43.5" height="16.0" rx="3" fill="#b0b0b0" opacity="0.42" filter="url(#bl2)"/>
<rect x="1897.8" y="97.9" width="40.5" height="11.5" rx="2.5" fill="#fff" opacity="1.00" filter="url(#bl)"/>
<rect x="1946.8" y="83.0" width="37.5" height="12.3" fill="#000" opacity="0.04"/>
<rect x="1945.8" y="83.0" width="1.2" height="12.3" fill="#fff" opacity="0.06"/>
<rect x="1984.1" y="83.0" width="1.2" height="12.3" fill="#fff" opacity="0.06"/>
<rect x="1943.8" y="92.8" width="43.5" height="18.6" rx="3" fill="#b0b0b0" opacity="0.42" filter="url(#bl2)"/>
<rect x="1945.3" y="95.3" width="40.5" height="14.1" rx="2.5" fill="#fff" opacity="1.00" filter="url(#bl)"/>
<rect x="1994.3" y="83.0" width="37.5" height="14.5" fill="#000" opacity="0.04"/>
<rect x="1993.3" y="83.0" width="1.2" height="14.5" fill="#fff" opacity="0.06"/>
<rect x="2031.6" y="83.0" width="1.2" height="14.5" fill="#fff" opacity="0.06"/>
<rect x="1991.3" y="95.0" width="43.5" height="16.4" rx="3" fill="#b0b0b0" opacity="0.42" filter="url(#bl2)"/>
<rect x="1992.8" y="97.5" width="40.5" height="11.9" rx="2.5" fill="#fff" opacity="1.00" filter="url(#bl)"/>
<rect x="2041.8" y="83.0" width="37.5" height="17.0" fill="#000" opacity="0.04"/>
<rect x="2040.8" y="83.0" width="1.2" height="17.0" fill="#fff" opacity="0.06"/>
<rect x="2079.1" y="83.0" width="1.2" height="17.0" fill="#fff" opacity="0.06"/>
<rect x="2038.8" y="97.5" width="43.5" height="14.4" rx="3" fill="#b0b0b0" opacity="0.30" filter="url(#bl2)"/>
<rect x="2040.3" y="100.0" width="40.5" height="9.9" rx="2.5" fill="#fff" opacity="0.72" filter="url(#bl)"/>
<rect x="2089.3" y="83.0" width="37.5" height="15.7" fill="#000" opacity="0.04"/>
<rect x="2088.3" y="83.0" width="1.2" height="15.7" fill="#fff" opacity="0.06"/>
<rect x="2126.6" y="83.0" width="1.2" height="15.7" fill="#fff" opacity="0.06"/>
<rect x="2086.3" y="96.2" width="43.5" height="15.7" rx="3" fill="#b0b0b0" opacity="0.42" filter="url(#bl2)"/>
<rect x="2087.8" y="98.7" width="40.5" height="11.2" rx="2.5" fill="#fff" opacity="1.00" filter="url(#bl)"/>
<rect x="2136.8" y="83.0" width="37.5" height="20.0" fill="#000" opacity="0.04"/>
<rect x="2135.8" y="83.0" width="1.2" height="20.0" fill="#fff" opacity="0.06"/>
<rect x="2174.1" y="83.0" width="1.2" height="20.0" fill="#fff" opacity="0.06"/>
<rect x="2133.8" y="100.5" width="43.5" height="14.1" rx="3" fill="#b0b0b0" opacity="0.25" filter="url(#bl2)"/>
<rect x="2135.3" y="103.0" width="40.5" height="9.6" rx="2.5" fill="#fff" opacity="0.60" filter="url(#bl)"/>
<rect x="2135.8" y="103.8" width="5" height="8.0" rx="2" fill="#fff" opacity="0.3" filter="url(#bl)"/>
<rect x="2170.3" y="103.8" width="5" height="8.0" rx="2" fill="#fff" opacity="0.3" filter="url(#bl)"/>
</g>
<text x="426.4" y="1209" font-size="60" text-anchor="middle">F1</text>
<text x="425" y="1275.6" font-size="60" text-anchor="middle">(<tspan class="it">rs</tspan>)</text>
<text x="784.3" y="1204" font-size="60" text-anchor="middle">backcross a</text>
<text x="785.5" y="1271" font-size="60" text-anchor="middle">untreated (<tspan class="it">rs:rr</tspan>)</text>
<text x="1180" y="1203.4" font-size="60" text-anchor="middle">backcross a</text>
<text x="1189.7" y="1270" font-size="60" text-anchor="middle">treated (<tspan class="it">rr</tspan>)</text>
<text x="1595" y="1208" font-size="60" text-anchor="middle">backcross b</text>
<text x="1595.8" y="1274" font-size="60" text-anchor="middle">untreated (<tspan class="it">rs:rr</tspan>)</text>
<text x="2009.5" y="1202" font-size="60" text-anchor="middle">backcross b</text>
<text x="2008.9" y="1269" font-size="60" text-anchor="middle">treated (<tspan class="it">rr</tspan>)</text>
</svg>
</body></html>
